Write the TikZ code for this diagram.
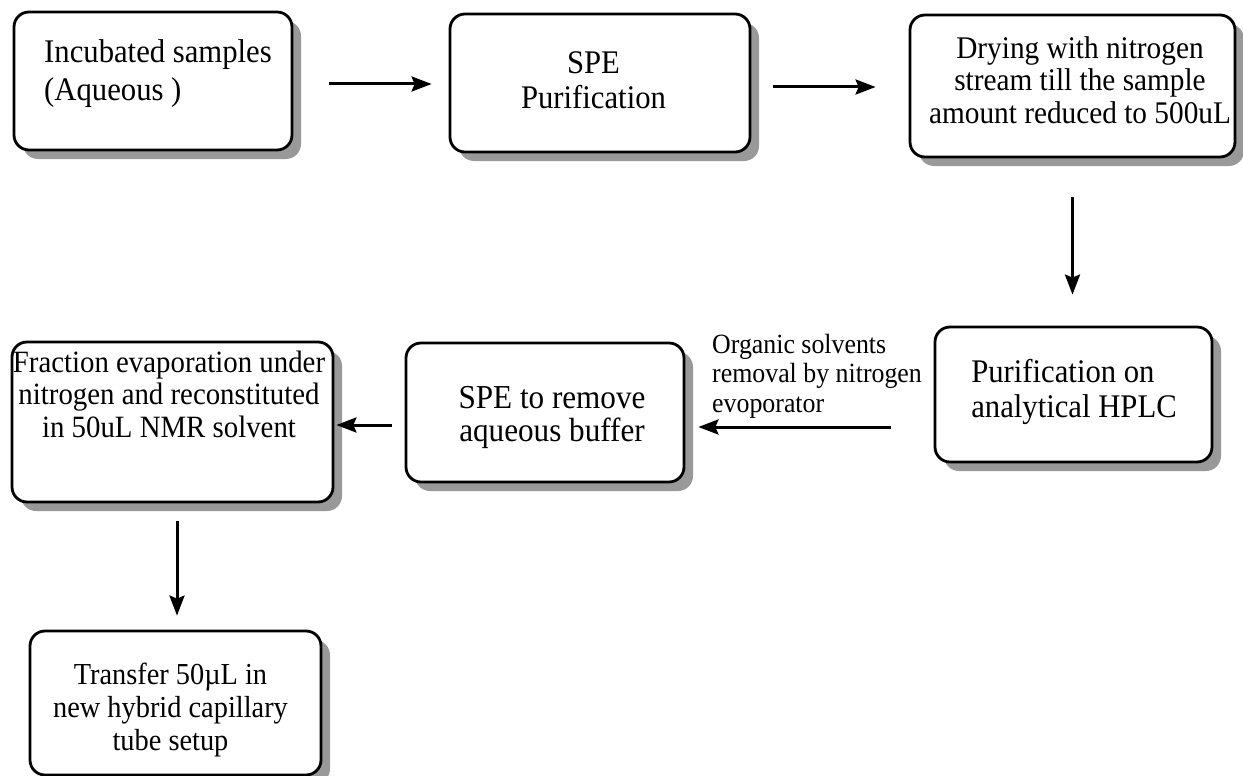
\documentclass[tikz,border=0pt]{standalone}
\usepackage{fontspec}
\setmainfont{Liberation Serif}[FakeStretch=0.93]
\usetikzlibrary{arrows.meta,shadows}
\begin{document}
\begin{tikzpicture}[x=1pt,y=-1pt,
  box/.style={draw=black, line width=2.8pt, rounded corners=15pt, fill=white,
    inner sep=0pt,
    drop shadow={shadow xshift=9pt, shadow yshift=-9pt, fill=black!40, opacity=1}},
  txt/.style={inner sep=0pt, align=center},
  arr/.style={line width=3pt, -{Stealth[length=20pt,width=15pt,inset=3pt]}}]
\useasboundingbox (0,0) rectangle (1243,776);
\fill[white] (0,0) rectangle (1243,776);

% boxes
\node[box, minimum width=278pt, minimum height=138pt] (b1) at (153,81) {};
\node[box, minimum width=300pt, minimum height=138pt] (b2) at (600,83) {};
\node[box, minimum width=325pt, minimum height=142pt] (b3) at (1072.5,86) {};
\node[box, minimum width=277pt, minimum height=135pt] (b4) at (1073.5,394.5) {};
\node[box, minimum width=278pt, minimum height=139pt] (b5) at (545,412.5) {};
\node[box, minimum width=321pt, minimum height=160pt] (b6) at (172.5,422) {};
\node[box, minimum width=291pt, minimum height=144pt] (b7) at (175.5,703) {};

% texts
\node[txt, align=left, font=\fontsize{33}{38}\selectfont] (t1) at (158,74) {Incubated samples\\(Aqueous )};
\node[txt, font=\fontsize{33}{35}\selectfont] (t2) at (593.5,80) {SPE\\Purification};
\node[txt, font=\fontsize{31.5}{32.5}\selectfont] (t3) at (1080,80) {Drying with nitrogen\\stream till the sample\\amount reduced to 500uL};
\node[txt, align=left, font=\fontsize{33}{35}\selectfont] (t4) at (1074,392) {Purification on\\analytical HPLC};
\node[txt, font=\fontsize{33.5}{33}\selectfont] (t5) at (552,417) {SPE to remove\\aqueous buffer};
\node[txt, font=\fontsize{31}{32.5}\selectfont] (t6) at (169,394) {Fraction evaporation under\\nitrogen and reconstituted\\in 50uL NMR solvent};
\node[txt, font=\fontsize{30.5}{33}\selectfont] (t7) at (170.5,710) {Transfer 50µL in\\new hybrid capillary\\tube setup};

\node[inner sep=0pt, align=left, anchor=north west, font=\fontsize{27.8}{29.5}\selectfont] (lab) at (712,334) {Organic solvents\\removal by nitrogen\\evoporator};

% connectors
\draw[arr, shorten <=36pt, shorten >=17pt] ([yshift=-3pt]b1.east) -- ([yshift=-3pt]b1.east -| b2.west);
\draw[arr, shorten <=22pt, shorten >=33pt] ([yshift=-4pt]b2.east) -- ([yshift=-4pt]b2.east -| b3.west);
\draw[arr, shorten <=39pt, shorten >=31pt] (b3.south) -- (b3.south |- b4.north);
\draw[arr, shorten <=43pt, shorten >=13pt] ([yshift=-32.5pt]b4.west) -- ([yshift=-32.5pt]b4.west -| b5.east);
\draw[arr, shorten <=13pt, shorten >=2pt] ([yshift=-12.5pt]b5.west) -- ([yshift=-12.5pt]b5.west -| b6.east);
\draw[arr, shorten <=18pt, shorten >=14pt] ([xshift=4.5pt]b6.south) -- ([xshift=4.5pt]b6.south |- b7.north);
\end{tikzpicture}
\end{document}
